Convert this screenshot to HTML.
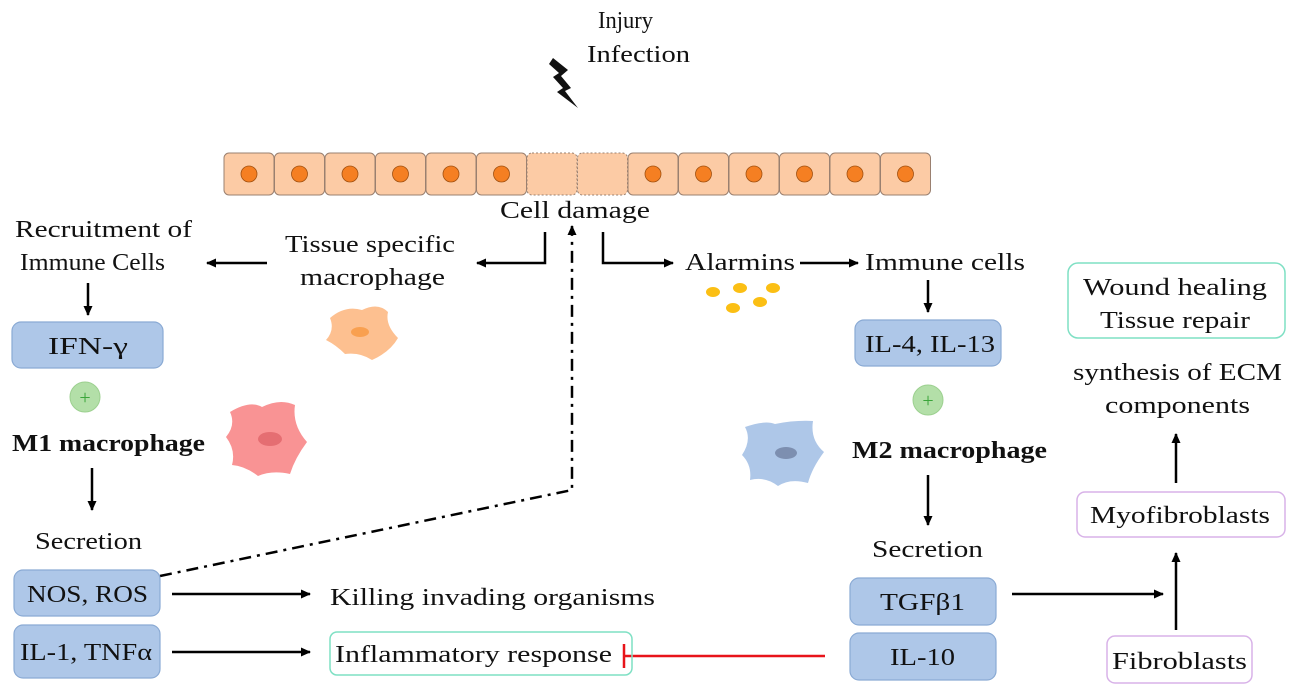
<!DOCTYPE html>
<html><head><meta charset="utf-8"><style>
html,body{margin:0;padding:0;background:#fff;}
svg{display:block;font-family:"Liberation Serif",serif;}
</style></head><body>
<svg width="1296" height="693" viewBox="0 0 1296 693" xmlns="http://www.w3.org/2000/svg">
<defs>
<marker id="a" markerWidth="12" markerHeight="12" refX="9" refY="6" orient="auto" markerUnits="userSpaceOnUse">
<path d="M0,1.5 L10,6 L0,10.5 Z" fill="#000"/></marker>
</defs>
<g font-size="24" fill="#111" lengthAdjust="spacingAndGlyphs">
<text x="598" y="28" textLength="55" lengthAdjust="spacingAndGlyphs">Injury</text>
<text x="587" y="62" textLength="103" lengthAdjust="spacingAndGlyphs">Infection</text>
</g>
<path d="M553,58 L568,70 L561,76 L571,88 L565,91 L578,108 L557,92 L563,88 L553,77 L559,73 L549,64 Z" fill="#111"/>
<g stroke="#9a8070" stroke-width="1">
<rect x="224" y="153" width="50" height="42" rx="5" fill="#fccba5"/>
<rect x="274.5" y="153" width="50" height="42" rx="5" fill="#fccba5"/>
<rect x="325" y="153" width="50" height="42" rx="5" fill="#fccba5"/>
<rect x="375.5" y="153" width="50" height="42" rx="5" fill="#fccba5"/>
<rect x="426" y="153" width="50" height="42" rx="5" fill="#fccba5"/>
<rect x="476.5" y="153" width="50" height="42" rx="5" fill="#fccba5"/>
<rect x="527" y="153" width="50" height="42" rx="5" fill="#fccba5" stroke-dasharray="2,2"/>
<rect x="577.5" y="153" width="50" height="42" rx="5" fill="#fccba5" stroke-dasharray="2,2"/>
<rect x="628" y="153" width="50" height="42" rx="5" fill="#fccba5"/>
<rect x="678.5" y="153" width="50" height="42" rx="5" fill="#fccba5"/>
<rect x="729" y="153" width="50" height="42" rx="5" fill="#fccba5"/>
<rect x="779.5" y="153" width="50" height="42" rx="5" fill="#fccba5"/>
<rect x="830" y="153" width="50" height="42" rx="5" fill="#fccba5"/>
<rect x="880.5" y="153" width="50" height="42" rx="5" fill="#fccba5"/>
</g>
<g fill="#f57f22" stroke="#a05010" stroke-width="0.8">
<circle cx="249" cy="174" r="8"/><circle cx="299.5" cy="174" r="8"/><circle cx="350" cy="174" r="8"/>
<circle cx="400.5" cy="174" r="8"/><circle cx="451" cy="174" r="8"/><circle cx="501.5" cy="174" r="8"/>
<circle cx="653" cy="174" r="8"/><circle cx="703.5" cy="174" r="8"/><circle cx="754" cy="174" r="8"/>
<circle cx="804.5" cy="174" r="8"/><circle cx="855" cy="174" r="8"/><circle cx="905.5" cy="174" r="8"/>
</g>
<g font-size="24" fill="#111">
<text x="500" y="218" textLength="150" lengthAdjust="spacingAndGlyphs">Cell damage</text>
<text x="285" y="252" textLength="170" lengthAdjust="spacingAndGlyphs">Tissue specific</text>
<text x="300" y="285" textLength="145" lengthAdjust="spacingAndGlyphs">macrophage</text>
<text x="15" y="237" textLength="177" lengthAdjust="spacingAndGlyphs">Recruitment of</text>
<text x="20" y="270" textLength="145" lengthAdjust="spacingAndGlyphs">Immune Cells</text>
<text x="685" y="270" textLength="110" lengthAdjust="spacingAndGlyphs">Alarmins</text>
<text x="865" y="270" textLength="160" lengthAdjust="spacingAndGlyphs">Immune cells</text>
<text x="35" y="549" textLength="107" lengthAdjust="spacingAndGlyphs">Secretion</text>
<text x="872" y="557" textLength="111" lengthAdjust="spacingAndGlyphs">Secretion</text>
<text x="1073" y="380" textLength="209" lengthAdjust="spacingAndGlyphs">synthesis of ECM</text>
<text x="1105" y="413" textLength="145" lengthAdjust="spacingAndGlyphs">components</text>
<text x="12" y="451" font-weight="bold" textLength="193" lengthAdjust="spacingAndGlyphs">M1 macrophage</text>
<text x="852" y="458" font-weight="bold" textLength="195" lengthAdjust="spacingAndGlyphs">M2 macrophage</text>
</g>
<g stroke="#000" stroke-width="2.5" fill="none">
<path d="M545,232 V263 H477" marker-end="url(#a)"/>
<path d="M603,232 V263 H673" marker-end="url(#a)"/>
<path d="M267,263 H207" marker-end="url(#a)"/>
<path d="M800,263 H858" marker-end="url(#a)"/>
<path d="M88,283 V315" marker-end="url(#a)"/>
<path d="M92,468 V510" marker-end="url(#a)"/>
<path d="M928,280 V312" marker-end="url(#a)"/>
<path d="M928,475 V525" marker-end="url(#a)"/>
<path d="M172,594 H310" marker-end="url(#a)"/>
<path d="M172,652 H310" marker-end="url(#a)"/>
<path d="M1012,594 H1163" marker-end="url(#a)"/>
<path d="M1176,630 V553" marker-end="url(#a)"/>
<path d="M1176,483 V434" marker-end="url(#a)"/>
<path d="M160,576 L572,490 V226" stroke-dasharray="12,6,3,6" marker-end="url(#a)"/>
</g>
<path d="M825,656 H624 M624,644 V668" stroke="#e8141a" stroke-width="2.5" fill="none"/>
<g fill="#aec7e8" stroke="#8aaad4" stroke-width="1.2">
<rect x="12" y="322" width="151" height="46" rx="9"/>
<rect x="14" y="570" width="146" height="46" rx="9"/>
<rect x="14" y="625" width="146" height="53" rx="9"/>
<rect x="855" y="320" width="146" height="46" rx="9"/>
<rect x="850" y="578" width="146" height="47" rx="9"/>
<rect x="850" y="633" width="146" height="47" rx="9"/>
</g>
<g fill="none" stroke-width="1.5">
<rect x="330" y="632" width="302" height="43" rx="7" stroke="#7fe0c4"/>
<rect x="1068" y="263" width="217" height="75" rx="10" stroke="#7fe0c4"/>
<rect x="1077" y="492" width="208" height="45" rx="8" stroke="#d8b2e8"/>
<rect x="1107" y="636" width="145" height="47" rx="8" stroke="#d8b2e8"/>
</g>
<g font-size="24" fill="#111">
<text x="48" y="354" textLength="80" lengthAdjust="spacingAndGlyphs">IFN-γ</text>
<text x="27" y="602" textLength="121" lengthAdjust="spacingAndGlyphs">NOS, ROS</text>
<text x="20" y="660" textLength="132" lengthAdjust="spacingAndGlyphs">IL-1, TNFα</text>
<text x="865" y="352" textLength="130" lengthAdjust="spacingAndGlyphs">IL-4, IL-13</text>
<text x="880" y="610" textLength="85" lengthAdjust="spacingAndGlyphs">TGFβ1</text>
<text x="890" y="665" textLength="65" lengthAdjust="spacingAndGlyphs">IL-10</text>
<text x="335" y="662" textLength="277" lengthAdjust="spacingAndGlyphs">Inflammatory response</text>
<text x="1083" y="295" textLength="184" lengthAdjust="spacingAndGlyphs">Wound healing</text>
<text x="1100" y="328" textLength="150" lengthAdjust="spacingAndGlyphs">Tissue repair</text>
<text x="1090" y="523" textLength="180" lengthAdjust="spacingAndGlyphs">Myofibroblasts</text>
<text x="1112" y="669" textLength="135" lengthAdjust="spacingAndGlyphs">Fibroblasts</text>
<text x="330" y="605" textLength="325" lengthAdjust="spacingAndGlyphs">Killing invading organisms</text>
</g>
<g>
<circle cx="85" cy="397" r="15" fill="#b3dfa8" stroke="#9cd08f"/>
<text x="85" y="404" font-size="20" fill="#3aa53a" text-anchor="middle">+</text>
<circle cx="928" cy="400" r="15" fill="#b3dfa8" stroke="#9cd08f"/>
<text x="928" y="407" font-size="20" fill="#3aa53a" text-anchor="middle">+</text>
</g>
<path d="M330,318 Q345,305 362,310 Q378,302 388,312 Q385,325 398,338 Q390,352 372,360 Q360,352 345,354 Q336,345 326,340 Q335,330 330,318 Z" fill="#fdc090"/>
<ellipse cx="360" cy="332" rx="9" ry="5" fill="#f9a050"/>
<path d="M230,412 Q250,400 262,407 Q280,398 295,405 Q292,425 307,442 Q295,458 290,474 Q272,470 258,476 Q245,466 232,465 Q236,450 226,437 Q236,425 230,412 Z" fill="#f99394"/>
<ellipse cx="270" cy="439" rx="12" ry="7" fill="#e56e72"/>
<path d="M745,427 Q765,420 775,424 Q795,420 813,421 Q810,440 824,452 Q812,468 808,483 Q790,478 778,486 Q765,476 750,480 Q752,465 742,455 Q752,440 745,427 Z" fill="#aec7e8"/>
<ellipse cx="786" cy="453" rx="11" ry="6" fill="#7d8fb0"/>
<g fill="#fbbf14">
<ellipse cx="713" cy="292" rx="7" ry="5"/><ellipse cx="740" cy="288" rx="7" ry="5"/>
<ellipse cx="773" cy="288" rx="7" ry="5"/><ellipse cx="733" cy="308" rx="7" ry="5"/>
<ellipse cx="760" cy="302" rx="7" ry="5"/>
</g>
</svg>
</body></html>
